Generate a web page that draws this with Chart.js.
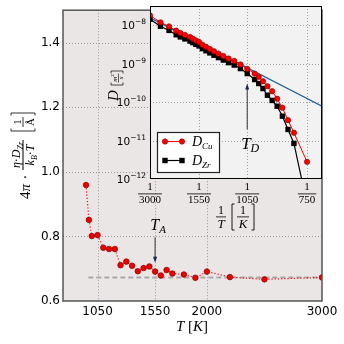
<!DOCTYPE html>
<html><head><meta charset="utf-8">
<script src="https://cdn.jsdelivr.net/npm/chart.js@4.4.0/dist/chart.umd.min.js"></script>
<style>
html,body{margin:0;padding:0;background:#fff;}
#wrap{position:relative;width:344px;height:344px;overflow:hidden;}
#main{position:absolute;left:0;top:0;}
#inset{position:absolute;left:100px;top:0;}
</style></head><body>
<div id="wrap">
<canvas id="main" width="344" height="344"></canvas>
<canvas id="inset" width="244" height="240"></canvas>
</div>
<script>
// ---------- main panel data ----------
const mainTemps = [950, 975, 1000, 1050, 1100, 1150, 1200, 1250, 1300, 1350, 1400, 1450, 1500, 1550, 1600, 1650, 1700, 1800, 1900, 2000, 2200, 2500, 3000];
const mainRatio = [0.959, 0.851, 0.801, 0.804, 0.765, 0.761, 0.761, 0.711, 0.722, 0.709, 0.692, 0.702, 0.707, 0.691, 0.679, 0.696, 0.685, 0.682, 0.672, 0.691, 0.674, 0.667, 0.673];
const plateauT = [970, 3000];
const plateauVal = [0.673, 0.673];
const mainXTicks = [1050, 1550, 2000, 3000];
const mainYTicks = [0.6, 0.8, 1.0, 1.2, 1.4];
const annotTA = {T: 1550, from: 0.797, to: 0.718, label: 'A'};

// ---------- inset data ----------
const insetT = [3000, 2500, 2200, 2000, 1900, 1800, 1700, 1650, 1600, 1550, 1500, 1450, 1400, 1350, 1300, 1250, 1200, 1150, 1100, 1050, 1000, 975, 950, 925, 900, 875, 850, 825, 800, 750];
const dCu = [1.82e-8, 1.2e-8, 9.4e-9, 7.3e-9, 6.35e-9, 5.64e-9, 5.0e-9, 4.52e-9, 4.08e-9, 3.71e-9, 3.15e-9, 2.77e-9, 2.44e-9, 2.12e-9, 1.84e-9, 1.60e-9, 1.37e-9, 1.19e-9, 9.6e-10, 7.38e-10, 5.56e-10, 4.57e-10, 3.51e-10, 2.6e-10, 1.93e-10, 1.23e-10, 7.16e-11, 3.4e-11, 1.6e-11, 2.8e-12];
const dZr = [1.45e-8, 9.5e-9, 7.4e-9, 5.7e-9, 5.0e-9, 4.44e-9, 3.89e-9, 3.56e-9, 3.21e-9, 2.92e-9, 2.48e-9, 2.18e-9, 1.92e-9, 1.67e-9, 1.45e-9, 1.25e-9, 1.07e-9, 9.25e-10, 7.5e-10, 5.56e-10, 3.89e-10, 3.06e-10, 2.27e-10, 1.52e-10, 1.11e-10, 7.87e-11, 4.33e-11, 1.95e-11, 8.45e-12, 2.2e-13];
const fitT = [3000, 700];
const fitD = [1.58e-8, 7.9e-11];
const insetXTickT = [3000, 1550, 1050, 750];
const insetYTicks = [1e-12, 1e-11, 1e-10, 1e-9, 1e-8];
const annotTD = {T: 1050, from: 1.95e-11, to: 3.06e-10, label: 'D'};

const SERIF = '"Liberation Serif", "DejaVu Serif", serif';
const SANS = '"DejaVu Sans", sans-serif';
function F(size, italic){ return (italic ? 'italic ' : '') + size + 'px ' + SERIF; }
function FS(size){ return size + 'px ' + SANS; }

// draw sequence of text pieces; seg = [text, font, dy]
function seqWidth(ctx, segs){ let w=0; segs.forEach(s=>{ctx.font=s[1]; w+=ctx.measureText(s[0]).width;}); return w; }
function drawSeq(ctx, segs, x, y, align){
  let w = seqWidth(ctx, segs);
  let cx = align === 'center' ? x - w/2 : (align === 'right' ? x - w : x);
  segs.forEach(s=>{ ctx.font=s[1]; ctx.fillText(s[0], cx, y + (s[2]||0)); cx += ctx.measureText(s[0]).width; });
  return w;
}
function bracket(ctx, x, y0, y1, dir){
  ctx.beginPath();
  ctx.moveTo(x + 2.5*dir, y0); ctx.lineTo(x, y0); ctx.lineTo(x, y1); ctx.lineTo(x + 2.5*dir, y1);
  ctx.stroke();
}
function dottedGrid(chart, xVals, yVals, color){
  const {ctx, chartArea:a, scales} = chart;
  ctx.save(); ctx.strokeStyle = color; ctx.lineWidth = 1; ctx.setLineDash([1,2]);
  ctx.beginPath();
  xVals.forEach(v=>{ const p = Math.round(scales.x.getPixelForValue(v)) + 0.5; ctx.moveTo(p, a.top); ctx.lineTo(p, a.bottom); });
  yVals.forEach(v=>{ const p = Math.round(scales.y.getPixelForValue(v)) + 0.5; ctx.moveTo(a.left, p); ctx.lineTo(a.right, p); });
  ctx.stroke(); ctx.restore();
}
function arrow(ctx, x, y0, y1){
  ctx.save();
  ctx.strokeStyle = '#333'; ctx.lineWidth = 1;
  const dir = Math.sign(y1 - y0);
  ctx.beginPath(); ctx.moveTo(x, y0); ctx.lineTo(x, y1 - dir*4); ctx.stroke();
  ctx.fillStyle = '#1a2550';
  ctx.beginPath(); ctx.moveTo(x, y1); ctx.lineTo(x-2, y1 - dir*6); ctx.lineTo(x+2, y1 - dir*6); ctx.closePath(); ctx.fill();
  ctx.restore();
}

const mainPlugin = {
  id: 'mainDeco',
  beforeDraw(chart){
    const {ctx, chartArea:a} = chart;
    ctx.save(); ctx.fillStyle = '#ebe6e6'; ctx.fillRect(a.left, a.top, a.right-a.left, a.bottom-a.top); ctx.restore();
  },
  beforeDatasetsDraw(chart){
    dottedGrid(chart, mainXTicks.slice(0, 3), mainYTicks.slice(1), '#9a9a9a');
  },
  afterDraw(chart){
    const {ctx, chartArea:a, scales} = chart;
    ctx.save();
    ctx.strokeStyle = '#555'; ctx.lineWidth = 1.5;
    ctx.strokeRect(a.left, a.top, a.right-a.left, a.bottom-a.top);
    // T_A annotation
    const px = scales.x.getPixelForValue(annotTA.T);
    arrow(ctx, px, scales.y.getPixelForValue(annotTA.from), scales.y.getPixelForValue(annotTA.to));
    ctx.fillStyle = '#000'; ctx.textBaseline = 'alphabetic'; ctx.textAlign = 'left';
    drawSeq(ctx, [['T', F(16,true), 0], [annotTA.label, F(11,true), 3]], px+3, 230, 'center');
    // x title
    drawSeq(ctx, [['T', F(15,true)], [' [', F(15,false)], ['K', F(15,true)], [']', F(15,false)]], 192, 331, 'center');
    // y title (rotated)
    ctx.translate(30, 155); ctx.rotate(-Math.PI/2);
    drawSeq(ctx, [['4', F(15,false)], ['\u03C0', F(15,true)]], -44, 0, 'left');
    drawSeq(ctx, [['\u00B7', F(15,false)]], -22, 0, 'center');
    const axis = -7;
    ctx.fillRect(-15, axis-0.5, 30, 1);
    drawSeq(ctx, [['\u03B7', F(12,true)], ['\u00B7', F(12,false)], ['D', F(12,true)], ['Zr', F(8,true), 3]], 0, -10, 'center');
    drawSeq(ctx, [['k', F(12,true)], ['B', F(8,true), 3], ['\u00B7', F(12,false)], ['T', F(12,true)]], 0, 3.5, 'center');
    ctx.strokeStyle = '#000'; ctx.lineWidth = 0.8;
    bracket(ctx, 24, -19, 5, 1); bracket(ctx, 42, -19, 5, -1);
    ctx.fillRect(28, axis-0.4, 10, 0.8);
    drawSeq(ctx, [['1', F(11,false)]], 33, -9.5, 'center');
    drawSeq(ctx, [['\u00C5', F(11,false)]], 33, 3.5, 'center');
    ctx.restore();
  }
};

new Chart(document.getElementById('main'), {
  type: 'scatter',
  data: { datasets: [
    { data: mainTemps.map((t,i)=>({x:t, y:mainRatio[i]})), showLine:true, borderColor:'#ee1111', borderWidth:1.2, borderDash:[1.2,2],
      pointRadius:2.8, pointBackgroundColor:'#ee0000', pointBorderColor:'#8a0000', pointBorderWidth:0.7 },
    { data: plateauT.map((t,i)=>({x:t, y:plateauVal[i]})), showLine:true, borderColor:'#a8a8a8', borderWidth:2, borderDash:[5,3], pointRadius:0 }
  ]},
  options: {
    responsive:false, animation:false, devicePixelRatio:1,
    layout:{ padding:{left:0, top:6, right:22, bottom:0} },
    plugins:{ legend:{display:false}, tooltip:{enabled:false} },
    scales:{
      x:{ type:'linear', min:750, max:3000,
          afterBuildTicks:s=>{ s.ticks = mainXTicks.map(v=>({value:v})); },
          afterFit:s=>{ s.height = 43; },
          grid:{display:false, drawTicks:false}, border:{display:false},
          ticks:{ font:{family:SANS, size:12}, color:'#000', padding:4, maxRotation:0, autoSkip:false, callback:v=>String(v) } },
      y:{ type:'linear', min:0.6, max:1.5,
          afterBuildTicks:s=>{ s.ticks = mainYTicks.map(v=>({value:v})); },
          afterFit:s=>{ s.width = 63; },
          grid:{display:false, drawTicks:false}, border:{display:false},
          ticks:{ font:{family:SANS, size:12}, color:'#000', padding:3, autoSkip:false, callback:v=>Number(v).toFixed(1) } }
    }
  },
  plugins:[mainPlugin]
});

const insetPlugin = {
  id: 'insetDeco',
  beforeDraw(chart){
    const {ctx, chartArea:a} = chart;
    ctx.save(); ctx.fillStyle = '#f2f2f2'; ctx.fillRect(a.left, a.top, a.right-a.left, a.bottom-a.top); ctx.restore();
  },
  beforeDatasetsDraw(chart){
    dottedGrid(chart, insetXTickT.slice(1).map(t=>1/t), insetYTicks.slice(1), '#a0a0a0');
  },
  afterDraw(chart){
    const {ctx, chartArea:a, scales} = chart;
    ctx.save();
    ctx.strokeStyle = '#000'; ctx.lineWidth = 1;
    ctx.strokeRect(a.left+0.5, a.top+0.5, a.right-a.left-1, a.bottom-a.top-1);
    ctx.fillStyle = '#000'; ctx.textBaseline = 'alphabetic';
    // y tick labels 10^n
    insetYTicks.forEach(v=>{
      const py = scales.y.getPixelForValue(v);
      const e = Math.round(Math.log10(v));
      drawSeq(ctx, [['10', FS(10.5)], [String(e).replace('-', '\u2212'), FS(7.5), -5]], a.left - 4, py + 4, 'right');
    });
    // x tick labels as fractions
    insetXTickT.forEach(t=>{
      const px = scales.x.getPixelForValue(1/t);
      ctx.font = F(11,false);
      const w = ctx.measureText(String(t)).width;
      drawSeq(ctx, [['1', F(11,false)]], px, 190, 'center');
      ctx.fillRect(px - w/2 - 1, 193.5, w + 2, 0.8);
      drawSeq(ctx, [[String(t), F(11,false)]], px, 203, 'center');
    });
    // x title  1/T [1/K]
    const cx = 121;
    drawSeq(ctx, [['1', F(12,false)]], cx, 214, 'center');
    ctx.fillRect(cx-5, 216.5, 10, 0.8);
    drawSeq(ctx, [['T', F(13,true)]], cx, 228, 'center');
    ctx.strokeStyle = '#000'; ctx.lineWidth = 0.9;
    bracket(ctx, 132, 204, 230, 1); bracket(ctx, 154, 204, 230, -1);
    drawSeq(ctx, [['1', F(12,false)]], 143, 214, 'center');
    ctx.fillRect(137, 216.5, 12, 0.8);
    drawSeq(ctx, [['K', F(13,true)]], 143, 228, 'center');
    // legend
    ctx.fillStyle = '#fff'; ctx.fillRect(57, 132, 63, 41);
    ctx.strokeStyle = '#222'; ctx.lineWidth = 1.2; ctx.strokeRect(57.5, 132.5, 62, 40);
    ctx.strokeStyle = '#ff0000'; ctx.lineWidth = 1;
    ctx.beginPath(); ctx.moveTo(65, 141.5); ctx.lineTo(82, 141.5); ctx.stroke();
    ctx.fillStyle = '#ff0000'; ctx.strokeStyle = '#800000'; ctx.lineWidth = 0.6;
    [65, 82].forEach(x=>{ ctx.beginPath(); ctx.arc(x, 141.5, 2.7, 0, Math.PI*2); ctx.fill(); ctx.stroke(); });
    ctx.strokeStyle = '#000'; ctx.lineWidth = 1.2;
    ctx.beginPath(); ctx.moveTo(65, 160.5); ctx.lineTo(82, 160.5); ctx.stroke();
    ctx.fillStyle = '#000';
    [65, 82].forEach(x=>{ ctx.fillRect(x-2.7, 160.5-2.7, 5.4, 5.4); });
    drawSeq(ctx, [['D', F(14,true)], ['Cu', F(9,true), 3]], 92, 146, 'left');
    drawSeq(ctx, [['D', F(14,true)], ['Zr', F(9,true), 3]], 92, 165, 'left');
    // T_D annotation
    const px = scales.x.getPixelForValue(1/annotTD.T);
    arrow(ctx, px, scales.y.getPixelForValue(annotTD.from), scales.y.getPixelForValue(annotTD.to));
    ctx.fillStyle = '#000';
    drawSeq(ctx, [['T', F(17,true)], [annotTD.label, F(12,true), 3]], px+3, 149, 'center');
    // y title  D [m^2/s]
    ctx.translate(18, 101); ctx.rotate(-Math.PI/2);
    drawSeq(ctx, [['D', F(15,true)]], 0, 0, 'left');
    ctx.strokeStyle = '#000'; ctx.lineWidth = 0.7;
    bracket(ctx, 16, -7, 5, 1); bracket(ctx, 30, -7, 5, -1);
    drawSeq(ctx, [['m', F(7,true)], ['2', F(5,false), -3]], 23, -1.5, 'center');
    ctx.fillRect(18.5, 0, 9, 0.6);
    drawSeq(ctx, [['s', F(7,true)]], 23, 5, 'center');
    ctx.restore();
  }
};

new Chart(document.getElementById('inset'), {
  type: 'scatter',
  data: { datasets: [
    { data: insetT.map((t,i)=>({x:1/t, y:dCu[i]})), showLine:true, borderColor:'#ff0000', borderWidth:1,
      pointStyle:'circle', pointRadius:2.7, pointBackgroundColor:'#ff0000', pointBorderColor:'#800000', pointBorderWidth:0.6 },
    { data: insetT.map((t,i)=>({x:1/t, y:dZr[i]})), showLine:true, borderColor:'#000000', borderWidth:1.2,
      pointStyle:'rect', pointRadius:3.8, pointBackgroundColor:'#000', pointBorderColor:'#000', pointBorderWidth:0 },
    { data: fitT.map((t,i)=>({x:1/t, y:fitD[i]})), showLine:true, borderColor:'#1f5f9f', borderWidth:1.3, pointRadius:0 }
  ]},
  options: {
    responsive:false, animation:false, devicePixelRatio:1,
    layout:{ padding:{left:0, top:6, right:22, bottom:0} },
    plugins:{ legend:{display:false}, tooltip:{enabled:false} },
    scales:{
      x:{ type:'linear', min:1/3000, max:1/700,
          afterBuildTicks:s=>{ s.ticks = insetXTickT.map(t=>({value:1/t})); },
          afterFit:s=>{ s.height = 61; },
          grid:{display:false, drawTicks:false}, border:{display:false},
          ticks:{ display:false } },
      y:{ type:'logarithmic', min:1e-12, max:3.2e-8,
          afterBuildTicks:s=>{ s.ticks = insetYTicks.map(v=>({value:v})); },
          afterFit:s=>{ s.width = 50; },
          grid:{display:false, drawTicks:false}, border:{display:false},
          ticks:{ display:false } }
    }
  },
  plugins:[insetPlugin]
});
</script>
</body></html>
